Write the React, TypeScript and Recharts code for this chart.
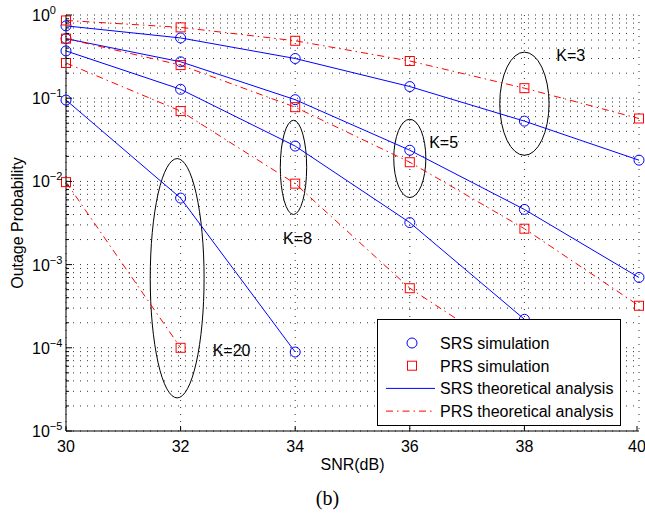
import {
  LineChart,
  Line,
  XAxis,
  YAxis,
  CartesianGrid,
  ReferenceArea,
  ReferenceDot,
  Legend,
  Label,
} from "recharts";

// SNR points (dB)
const snr = [30, 32, 34, 36, 38, 40];

// outage probability, one array per K and scheme
const srsK3 = [0.74, 0.53, 0.3, 0.138, 0.053, 0.018];
const prsK3 = [0.86, 0.71, 0.49, 0.28, 0.132, 0.057];
const srsK5 = [0.52, 0.274, 0.096, 0.0237, 0.0046, 0.0007];
const prsK5 = [0.52, 0.25, 0.078, 0.017, 0.0027, 0.00032];
const srsK8 = [0.37, 0.128, 0.0266, 0.0032, 0.00022, null];
const prsK8 = [0.265, 0.07, 0.0094, 0.00052, 0.000065, null];
const srsK20 = [0.095, 0.0063, 0.000089, null, null, null];
const prsK20 = [0.0098, 0.0001, null, null, null, null];

const xTicks = [30, 32, 34, 36, 38, 40];
const yDecades = [1e-5, 1e-4, 1e-3, 1e-2, 1e-1, 1];
const yMinor = [2, 3, 4, 5, 6, 7, 8, 9];

// ellipses grouping the curves of each K
const groups = [
  { name: "K=3", x1: 37.57, x2: 38.43, y1: 0.0206, y2: 0.358, lx: 38.81, ly: 0.33 },
  { name: "K=5", x1: 35.72, x2: 36.28, y1: 0.0064, y2: 0.0558, lx: 36.59, ly: 0.0295 },
  { name: "K=8", x1: 33.74, x2: 34.2, y1: 0.004, y2: 0.0543, lx: 34.04, ly: 0.00207 },
  { name: "K=20", x1: 31.47, x2: 32.41, y1: 0.000025, y2: 0.0188, lx: 32.89, ly: 0.000095 },
];

const BLUE = "#0000ff";
const RED = "#ff0000";
const DASHDOT = "7 4 1.5 4";
const FONT = '"Liberation Sans", Arial, Helvetica, sans-serif';

const yTicks: number[] = [];
yDecades.forEach((d) => {
  yTicks.push(d);
  if (d < 1) yMinor.forEach((m) => yTicks.push(m * d));
});

const data = snr.map((s, i) => ({
  snr: s,
  srs3: srsK3[i],
  prs3: prsK3[i],
  srs5: srsK5[i],
  prs5: prsK5[i],
  srs8: srsK8[i],
  prs8: prsK8[i],
  srs20: srsK20[i],
  prs20: prsK20[i],
}));

const series = [
  { key: "srs3", kind: "srs" },
  { key: "prs3", kind: "prs" },
  { key: "srs5", kind: "srs" },
  { key: "prs5", kind: "prs" },
  { key: "srs8", kind: "srs" },
  { key: "prs8", kind: "prs" },
  { key: "srs20", kind: "srs" },
  { key: "prs20", kind: "prs" },
];

const isDecade = (v: number) => {
  const e = Math.round(Math.log10(v));
  return Math.abs(v / Math.pow(10, e) - 1) < 1e-6;
};

const CircleDot = (p: any) => {
  if (p.cy == null || p.value == null) return <g key={p.key} />;
  return <circle key={p.key} cx={p.cx} cy={p.cy} r={5} fill="none" stroke={BLUE} strokeWidth={1} />;
};

const SquareDot = (p: any) => {
  if (p.cy == null || p.value == null) return <g key={p.key} />;
  return (
    <rect key={p.key} x={p.cx - 4.5} y={p.cy - 4.5} width={9} height={9} fill="none" stroke={RED} strokeWidth={1} />
  );
};

const LeftTick = (props: any) => {
  const { x, y, payload } = props;
  const v = payload.value;
  const major = isDecade(v);
  const e = Math.round(Math.log10(v));
  return (
    <g>
      <line x1={x} x2={x + (major ? 6 : 3)} y1={y} y2={y} stroke="#000" />
      {major && (
        <text x={x - 34} y={y + 6} fontSize={16} fontFamily={FONT} fill="#000">
          10
          <tspan dy={-7} fontSize={11}>
            {e === 0 ? "0" : "\u2212" + -e}
          </tspan>
        </text>
      )}
    </g>
  );
};

const RightTick = (props: any) => {
  const { x, y, payload } = props;
  const major = isDecade(payload.value);
  return <line x1={x} x2={x - (major ? 6 : 3)} y1={y} y2={y} stroke="#000" />;
};

const BottomTick = (props: any) => {
  const { x, y, payload } = props;
  return (
    <g>
      <line x1={x} x2={x} y1={y} y2={y - 5} stroke="#000" />
      <text x={x} y={y + 21} textAnchor="middle" fontSize={16} fontFamily={FONT} fill="#000">
        {payload.value}
      </text>
    </g>
  );
};

const TopTick = (props: any) => {
  const { x, y } = props;
  return <line x1={x} x2={x} y1={y} y2={y + 5} stroke="#000" />;
};

const legendRows = [
  { label: "SRS simulation", kind: "circle" },
  { label: "PRS simulation", kind: "square" },
  { label: "SRS theoretical analysis", kind: "solid" },
  { label: "PRS theoretical analysis", kind: "dashdot" },
];

const LegendBox = () => (
  <div style={{ border: "1px solid #000", background: "#fff", width: 242, height: 105 }}>
    <svg width={242} height={105}>
      {legendRows.map((r, i) => {
        const cy = 23 + i * 22.7;
        return (
          <g key={r.label}>
            {r.kind === "circle" && <circle cx={34} cy={cy} r={5} fill="none" stroke={BLUE} />}
            {r.kind === "square" && (
              <rect x={29.5} y={cy - 4.5} width={9} height={9} fill="none" stroke={RED} />
            )}
            {r.kind === "solid" && <line x1={8} x2={57} y1={cy} y2={cy} stroke={BLUE} />}
            {r.kind === "dashdot" && (
              <line x1={8} x2={57} y1={cy} y2={cy} stroke={RED} strokeDasharray={DASHDOT} />
            )}
            <text x={62} y={cy + 6} fontSize={16} fontFamily={FONT} fill="#000">
              {r.label}
            </text>
          </g>
        );
      })}
    </svg>
  </div>
);

export default function App() {
  return (
    <div style={{ position: "absolute", left: 0, top: 0, width: 645, height: 515, background: "#fff" }}>
      <LineChart
        width={645}
        height={515}
        data={data}
        margin={{ top: 15, right: 6, bottom: 59, left: 10 }}
      >
        <CartesianGrid xAxisId="b" yAxisId="l" stroke="#333" strokeDasharray="1 6" />
        <XAxis
          xAxisId="b"
          dataKey="snr"
          type="number"
          domain={[30, 40]}
          ticks={xTicks}
          height={25}
          tickSize={0}
          tickMargin={0}
          tickLine={false}
          tick={<BottomTick />}
          axisLine={{ stroke: "#000" }}
        >
          <Label
            value="SNR(dB)"
            position="bottom"
            offset={3}
            style={{ fontSize: 16, fontFamily: FONT, fill: "#000" }}
          />
          <Label
            value="(b)"
            position="bottom"
            offset={35}
            dx={-25}
            style={{ fontSize: 20, fontFamily: '"Liberation Serif", "Times New Roman", serif', fill: "#000" }}
          />
        </XAxis>
        <XAxis
          xAxisId="t"
          dataKey="snr"
          type="number"
          orientation="top"
          domain={[30, 40]}
          ticks={xTicks}
          height={0}
          tickSize={0}
          tickMargin={0}
          tickLine={false}
          tick={<TopTick />}
          axisLine={{ stroke: "#000" }}
        />
        <YAxis
          yAxisId="l"
          scale="log"
          domain={[1e-5, 1]}
          ticks={yTicks}
          allowDataOverflow
          width={56}
          tickSize={0}
          tickMargin={0}
          tickLine={false}
          interval={0}
          tick={<LeftTick />}
          axisLine={{ stroke: "#000" }}
        >
          <Label
            value="Outage Probability"
            angle={-90}
            position="insideLeft"
            offset={7}
            style={{ fontSize: 16, fontFamily: FONT, fill: "#000", textAnchor: "middle" }}
          />
        </YAxis>
        <YAxis
          yAxisId="r"
          orientation="right"
          scale="log"
          domain={[1e-5, 1]}
          ticks={yTicks}
          allowDataOverflow
          width={0}
          tickSize={0}
          tickMargin={0}
          tickLine={false}
          interval={0}
          tick={<RightTick />}
          axisLine={{ stroke: "#000" }}
        />
        {series.map((s) => (
          <Line
            key={s.key}
            xAxisId="b"
            yAxisId="l"
            type="linear"
            dataKey={s.key}
            stroke={s.kind === "srs" ? BLUE : RED}
            strokeWidth={1}
            strokeDasharray={s.kind === "srs" ? undefined : DASHDOT}
            dot={s.kind === "srs" ? CircleDot : SquareDot}
            activeDot={false}
            isAnimationActive={false}
          />
        ))}
        {groups.map((g) => (
          <ReferenceArea
            key={g.name}
            xAxisId="b"
            yAxisId="l"
            x1={g.x1}
            x2={g.x2}
            y1={g.y1}
            y2={g.y2}
            shape={(p: any) => (
              <ellipse
                cx={p.x + p.width / 2}
                cy={p.y + p.height / 2}
                rx={Math.abs(p.width) / 2}
                ry={Math.abs(p.height) / 2}
                fill="none"
                stroke="#000"
                strokeWidth={1}
              />
            )}
          />
        ))}
        {groups.map((g) => (
          <ReferenceDot
            key={g.name + "-label"}
            xAxisId="b"
            yAxisId="l"
            x={g.lx}
            y={g.ly}
            r={0}
            shape={(p: any) => (
              <text
                x={p.cx}
                y={p.cy + 6}
                textAnchor="middle"
                fontSize={16}
                fontFamily={FONT}
                fill="#000"
              >
                {g.name}
              </text>
            )}
          />
        ))}
        <Legend
          layout="vertical"
          align="center"
          verticalAlign="middle"
          content={<LegendBox />}
          wrapperStyle={{ left: 377, top: 319, width: 244, height: 107 }}
        />
      </LineChart>
    </div>
  );
}
